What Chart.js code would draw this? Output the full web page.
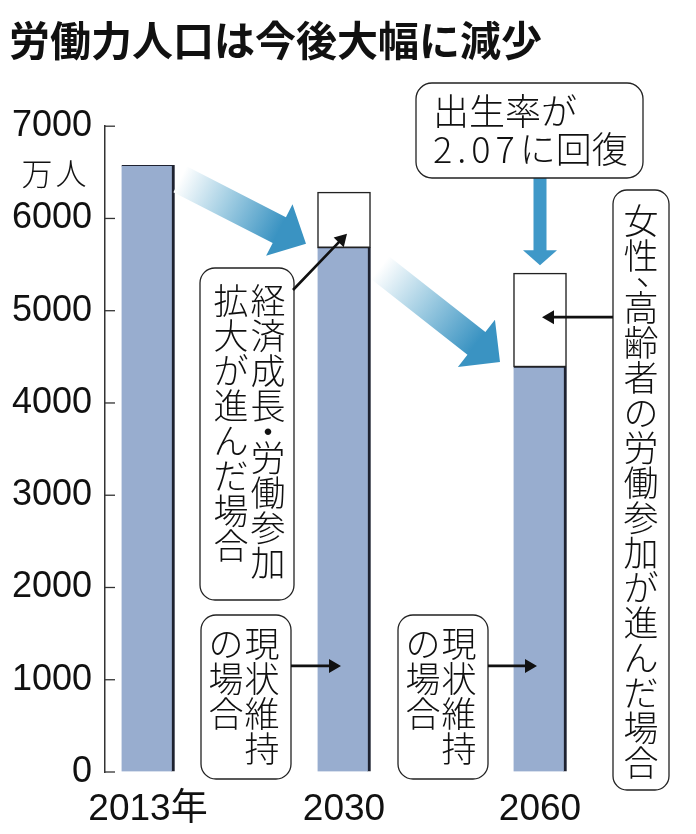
<!DOCTYPE html>
<html lang="ja">
<head>
<meta charset="utf-8">
<script src="https://cdn.jsdelivr.net/npm/chart.js@4.4.1/dist/chart.umd.min.js"></script>
<style>
  html, body { margin: 0; padding: 0; background: #fff; }
</style>
</head>
<body>
<canvas id="chart" width="696" height="834"></canvas>
<script>
const categories = ["2013年", "2030", "2060"];
// 現状維持の場合（万人）
const currentTrend = [6577, 5683, 4390];
// 労働参加が進んだ場合（万人）
const boostedTotal = [null, 6285, 5407];
const yTicks = [0, 1000, 2000, 3000, 4000, 5000, 6000, 7000];
const unitLabel = "万人";

const CJK = '"Noto Sans CJK JP", "Noto Sans", sans-serif';
const NUM = '"Liberation Sans", "Noto Sans CJK JP", sans-serif';

function roundBox(ctx, x, y, w, h, r) {
  ctx.beginPath();
  ctx.roundRect(x, y, w, h, r);
  ctx.fillStyle = "#fff";
  ctx.fill();
  ctx.lineWidth = 1.3;
  ctx.strokeStyle = "#222";
  ctx.stroke();
}

// 縦書き
function vtext(ctx, str, cx, top, pitch) {
  let cy = top;
  for (const ch of str) {
    const half = ch === "、" || ch === "・";
    const adv = half ? pitch * 0.5 : pitch;
    let dx = 0, dy = 0;
    if (ch === "、") { dx = pitch * 0.35; dy = -pitch * 0.3; }
    ctx.fillText(ch, cx + dx, cy + adv / 2 + dy);
    cy += adv;
  }
}

function blockArrow(ctx, x0, y0, x1, y1, sw, hw, hl, fill) {
  const len = Math.hypot(x1 - x0, y1 - y0);
  const ux = (x1 - x0) / len, uy = (y1 - y0) / len;
  const nx = -uy, ny = ux;
  const bx = x1 - ux * hl, by = y1 - uy * hl;
  ctx.beginPath();
  ctx.moveTo(x0 + nx * sw / 2, y0 + ny * sw / 2);
  ctx.lineTo(bx + nx * sw / 2, by + ny * sw / 2);
  ctx.lineTo(bx + nx * hw / 2, by + ny * hw / 2);
  ctx.lineTo(x1, y1);
  ctx.lineTo(bx - nx * hw / 2, by - ny * hw / 2);
  ctx.lineTo(bx - nx * sw / 2, by - ny * sw / 2);
  ctx.lineTo(x0 - nx * sw / 2, y0 - ny * sw / 2);
  ctx.closePath();
  if (fill === "gradient") {
    const g = ctx.createLinearGradient(x0, y0, bx, by);
    g.addColorStop(0, "#ffffff");
    g.addColorStop(0.45, "#a6d0e4");
    g.addColorStop(1, "#3a93c2");
    ctx.fillStyle = g;
  } else {
    ctx.fillStyle = fill;
  }
  ctx.fill();
}

function pointer(ctx, x0, y0, x1, y1) {
  blockArrow(ctx, x0, y0, x1, y1, 2.6, 14, 12, "#111");
}

const annotations = {
  id: "annotations",
  afterDatasetsDraw(chart) {
    const { ctx, chartArea, scales: { x, y } } = chart;
    const X = i => x.getPixelForValue(i);
    const Y = v => y.getPixelForValue(v);
    ctx.save();

    // 内向きの目盛り
    ctx.strokeStyle = "#333";
    ctx.lineWidth = 1.3;
    yTicks.forEach(v => {
      ctx.beginPath();
      ctx.moveTo(chartArea.left, Y(v));
      ctx.lineTo(chartArea.left + 10, Y(v));
      ctx.stroke();
    });

    // 単位
    ctx.fillStyle = "#111";
    ctx.textAlign = "center";
    ctx.textBaseline = "middle";
    ctx.font = "300 31px " + CJK;
    [...unitLabel].forEach((ch, i) => ctx.fillText(ch, 37 + i * 34, Y(6000) - 45));

    // 大きな矢印
    blockArrow(ctx, X(0) + 32, Y(currentTrend[0]) + 14, X(1) - 38, Y(currentTrend[1]) - 4, 29, 58, 30, "gradient");
    blockArrow(ctx, X(1) + 36, Y(currentTrend[1]) + 20, X(2) - 40, Y(currentTrend[2]) - 5, 29, 60, 30, "gradient");

    // 出生率の箱と矢印
    blockArrow(ctx, X(2), 176, X(2), Y(boostedTotal[2]) - 8, 13, 34, 15, "#3f98c8");
    roundBox(ctx, 416, 83, 227, 95, 16);
    ctx.fillStyle = "#111";
    ctx.textAlign = "left";
    ctx.font = "300 36px " + CJK;
    ctx.fillText("出生率が", 433, 111);
    ctx.letterSpacing = "5px";
    ctx.fillText("2.07", 433, 149);
    const w = ctx.measureText("2.07").width;
    ctx.letterSpacing = "0px";
    ctx.fillText("に回復", 433 + w, 149);

    ctx.textAlign = "center";
    ctx.font = "300 35px " + CJK;

    // 経済成長・労働参加拡大が進んだ場合
    roundBox(ctx, 200, 268, 94, 332, 15);
    ctx.fillStyle = "#111";
    vtext(ctx, "経済成長・労働参加", 268, 283, 35);
    vtext(ctx, "拡大が進んだ場合", 231, 283, 35);
    pointer(ctx, 293, 290, X(1) + 3, Y(currentTrend[1]) - 14);

    // 現状維持の場合
    [[201, 1], [398, 2]].forEach(([bx, i]) => {
      roundBox(ctx, bx, 615, 90, 164, 15);
      ctx.fillStyle = "#111";
      vtext(ctx, "現状維持", bx + 61, 626, 35);
      vtext(ctx, "の場合", bx + 25, 626, 35);
      pointer(ctx, bx + 90, Y(1150), X(i) - 3, Y(1150));
    });

    // 女性、高齢者の労働参加が進んだ場合
    roundBox(ctx, 613, 190, 56, 600, 14);
    ctx.fillStyle = "#111";
    vtext(ctx, "女性、高齢者の労働参加が進んだ場合", 641, 203, 35);
    pointer(ctx, 613, Y(4930), X(2) + 2, Y(4930));

    ctx.restore();
  }
};

new Chart(document.getElementById("chart"), {
  type: "bar",
  data: {
    datasets: [
      {
        label: "現状維持の場合",
        data: currentTrend.map((v, i) => ({ x: i, y: v })),
        backgroundColor: "#98adcf",
        borderColor: "#1e2230",
        borderWidth: { top: 1, right: 3, bottom: 0, left: 0 },
        borderSkipped: false,
        barThickness: 53,
        grouped: false,
        order: 2
      },
      {
        label: "労働参加が進んだ場合",
        data: boostedTotal.map((v, i) => ({ x: i, y: v == null ? null : [currentTrend[i], v] })),
        backgroundColor: "#ffffff",
        borderColor: "#222",
        borderWidth: 1.5,
        borderSkipped: false,
        barThickness: 53,
        grouped: false,
        order: 1
      }
    ]
  },
  options: {
    responsive: false,
    animation: false,
    layout: { padding: { left: 9, right: 6, top: 0, bottom: 0 } },
    plugins: {
      legend: { display: false },
      tooltip: { enabled: false },
      title: {
        display: true,
        text: "労働力人口は今後大幅に減少",
        align: "start",
        color: "#111",
        font: { family: CJK, size: 41, weight: "bold" },
        padding: { top: 16, bottom: 61 }
      }
    },
    scales: {
      x: {
        type: "linear",
        min: -0.2194,
        max: 2.7653,
        offset: false,
        grid: { display: false },
        border: { display: false },
        afterBuildTicks: s => { s.ticks = categories.map((c, i) => ({ value: i })); },
        afterFit: s => { s.height = 62; },
        ticks: {
          autoSkip: false,
          maxRotation: 0,
          padding: 8,
          color: "#111",
          font: { family: NUM, size: 37 },
          callback: v => categories[v]
        }
      },
      y: {
        min: 0,
        max: 7000,
        afterBuildTicks: s => { s.ticks = yTicks.map(v => ({ value: v })); },
        afterFit: s => { s.width = 96; },
        grid: { display: true, drawOnChartArea: false, drawTicks: false },
        border: { display: true, color: "#333", width: 1.5 },
        ticks: {
          padding: 13,
          color: "#111",
          font: { family: NUM, size: 36 },
          callback: v => String(v)
        }
      }
    }
  },
  plugins: [annotations]
});
</script>
</body>
</html>
